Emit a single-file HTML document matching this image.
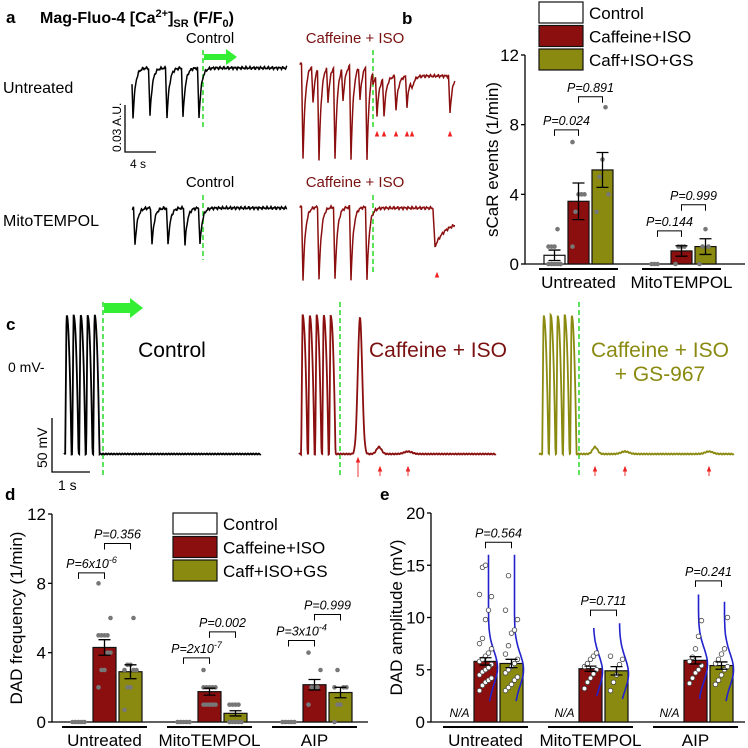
<!DOCTYPE html>
<html><head><meta charset="utf-8"><style>
html,body{margin:0;padding:0;background:#fff}
svg{display:block;font-family:"Liberation Sans",Arial,sans-serif}
</style></head><body>
<svg id="fig" width="748" height="748" viewBox="0 0 748 748" xmlns="http://www.w3.org/2000/svg">
<g id="pa">
<text x="6" y="23" font-size="17" font-weight="bold">a</text>
<text x="40" y="23" font-size="16" font-weight="bold">Mag-Fluo-4 [Ca<tspan font-size="11" dy="-6">2+</tspan><tspan dy="6">]</tspan><tspan font-size="11" dy="4">SR</tspan><tspan dy="-4"> (F/F</tspan><tspan font-size="11" dy="4">0</tspan><tspan dy="-4">)</tspan></text>
<text x="210" y="43" font-size="15" text-anchor="middle">Control</text>
<text x="355" y="43" font-size="15" text-anchor="middle" fill="#7a1010">Caffeine + ISO</text>
<text x="3" y="93" font-size="16">Untreated</text>
<text x="210" y="187" font-size="15" text-anchor="middle">Control</text>
<text x="355" y="187" font-size="15" text-anchor="middle" fill="#7a1010">Caffeine + ISO</text>
<text x="3" y="226" font-size="16">MitoTEMPOL</text>
<path d="M125 105V152H156" fill="none" stroke="#000" stroke-width="1.3"/>
<text transform="translate(121,152) rotate(-90)" font-size="12">0.03 A.U.</text>
<text x="130" y="168" font-size="12">4 s</text>
<line x1="203" y1="50" x2="203" y2="128" stroke="#33dd33" stroke-width="1.6" stroke-dasharray="5,3"/>
<line x1="373" y1="50" x2="373" y2="130" stroke="#33dd33" stroke-width="1.6" stroke-dasharray="5,3"/>
<line x1="203" y1="195" x2="203" y2="260" stroke="#33dd33" stroke-width="1.6" stroke-dasharray="5,3"/>
<line x1="373" y1="195" x2="373" y2="275" stroke="#33dd33" stroke-width="1.6" stroke-dasharray="5,3"/>
<path d="M204 54H226V49L237 57L226 65V60H204Z" fill="#33ee33"/>
</g>
<g id="pb"></g>
<g id="pc">
<text x="6" y="330" font-size="17" font-weight="bold">c</text>
<text x="8" y="372" font-size="14">0 mV-</text>
<path d="M52 418V472H90" fill="none" stroke="#000" stroke-width="1.3"/>
<text transform="translate(47,468) rotate(-90)" font-size="14">50 mV</text>
<text x="58" y="490" font-size="14">1 s</text>
<text x="172" y="357" font-size="21" text-anchor="middle">Control</text>
<text x="438" y="357" font-size="21" text-anchor="middle" fill="#7a1010">Caffeine + ISO</text>
<text x="660" y="357" font-size="21" text-anchor="middle" fill="#8a8a10">Caffeine + ISO</text>
<text x="660" y="381" font-size="21" text-anchor="middle" fill="#8a8a10">+ GS-967</text>
<line x1="103" y1="302" x2="103" y2="476" stroke="#33dd33" stroke-width="1.6" stroke-dasharray="5,3"/>
<line x1="340" y1="302" x2="340" y2="476" stroke="#33dd33" stroke-width="1.6" stroke-dasharray="5,3"/>
<line x1="579" y1="302" x2="579" y2="476" stroke="#33dd33" stroke-width="1.6" stroke-dasharray="5,3"/>
<path d="M104 303H130V298L143 308L130 318V313H104Z" fill="#33ee33"/>
</g>
<g id="pd"></g>
<g id="pe"></g>
</svg>
<script>
const NS="http://www.w3.org/2000/svg";
function mk(parent,tag,attrs,text){const e=document.createElementNS(NS,tag);for(const k in attrs)e.setAttribute(k,attrs[k]);if(text!==undefined)e.textContent=text;parent.appendChild(e);return e;}
const RED="#8b0f0f",OLV="#8a8a10",GRN="#33dd33";

// ---------- Panel a traces (event times in px, depths in px) ----------
const aUntrCtrlEvents=[133,150,167,183,199];
const aUntrCtrlDepth=[50,48,50,50,50];
const aUntrCaffEvents=[303,313,319,328,335,343,351,360,367,377,384,396,407,412,450];
const aUntrCaffDepth=[94,38,94,36,94,34,94,34,94,38,38,34,30,10,37];
const aMitoCtrlEvents=[135,152,168,185,200];
const aMitoCtrlDepth=[37,37,37,37,37];
const aMitoCaffEvents=[303,319,335,351,367];
const aMitoCaffDepth=[73,73,73,73,73];
const aUntrArrows=[377,384,396,407,412,450];
const aMitoArrows=[437];

function jit(x,k){return Math.sin(x*1.7+k)*0.9+Math.sin(x*3.1+k*2)*0.7;}
function caTrace(g,x0,x1,base0,base1,ev,dp,color,name,step){
  let d="";
  for(let x=x0;x<=x1;x+=0.5){
    let b=x<373?base0:base1;
    let y=b+jit(x,ev[0]);
    for(let i=0;i<ev.length;i++){const dx=x-ev[i];
      if(dx>=-1.5&&dx<0)y+=dp[i]*(dx+1.5)/1.5;else if(dx>=0)y+=dp[i]*Math.exp(-dx/2.4);}
    if(step&&x>=step.t){const dx=x-step.t;y+=step.a*Math.min(1,dx/2)*Math.exp(-dx/10)+step.s*Math.min(1,dx/2);}
    d+=(d?"L":"M")+x.toFixed(1)+" "+y.toFixed(1);
  }
  const p=mk(g,"path",{d:d,fill:"none",stroke:color,"stroke-width":1.5});
  
  
}
const pa=document.getElementById("pa");
caTrace(pa,132,287,68,74,aUntrCtrlEvents,aUntrCtrlDepth,"#000","trace-untreated-control");
caTrace(pa,300,455,64,76,aUntrCaffEvents,aUntrCaffDepth,RED,"trace-untreated-caff-iso");
caTrace(pa,132,287,208,210,aMitoCtrlEvents,aMitoCtrlDepth,"#000","trace-mito-control");
caTrace(pa,300,455,207,208,aMitoCaffEvents,aMitoCaffDepth,RED,"trace-mito-caff-iso",{t:433,a:30,s:14});
function upArrow(g,x,y,len,color,hw){
  hw=hw||1.6;
  const a=mk(g,"path",{d:`M${x} ${y}L${x-hw} ${y+4}H${x+hw}Z M${x} ${y+3}V${y+len}`,fill:color,stroke:color,"stroke-width":0.9});
  
  
}
aUntrArrows.forEach(x=>upArrow(pa,x,132,3,"#ee2222"));
aMitoArrows.forEach(x=>upArrow(pa,x,273,3,"#ee2222"));

// ---------- Panel c AP traces ----------
const cCtrlSpikes=[66,73,80,87,94];
const cCaffSpikes=[302,309,316,323,330];
const cCaffDads=[360,379,408];
const cCaffDadAmp=[136,7,2.5];
const cGsSpikes=[543,550,557,564,571];
const cGsDads=[595,625,709];
const cGsDadAmp=[7,2.5,2.5];
function apTrace(g,x0,x1,spikes,dads,amps,color,name){
  const base=454,peak=139;let d="";
  for(let x=x0;x<=x1;x+=0.4){
    let y=base+Math.sin(x*2.3)*0.5;
    spikes.forEach(s=>{const dx=x-s;if(dx>=-0.8&&dx<0.5)y-=peak*(dx+0.8)/1.3;else if(dx>=0.5&&dx<5.5)y-=peak*(1-((dx-0.5)/5)**2.2);});
    dads.forEach((s,i)=>{const dx=x-s;const w=amps[i]>50?2.2:(amps[i]>5?2.5:4);y-=amps[i]*Math.exp(-(dx*dx)/(2*w*w));});
    d+=(d?"L":"M")+x.toFixed(1)+" "+y.toFixed(1);
  }
  const p=mk(g,"path",{d:d,fill:"none",stroke:color,"stroke-width":1.8});
  
  
}
const pc=document.getElementById("pc");
apTrace(pc,64,261,cCtrlSpikes,[],[],"#000","ap-trace-control");
apTrace(pc,299,496,cCaffSpikes,cCaffDads,cCaffDadAmp,RED,"ap-trace-caff-iso");
apTrace(pc,539,734,cGsSpikes,cGsDads,cGsDadAmp,OLV,"ap-trace-caff-iso-gs");
upArrow(pc,358,458,19,"#ee2222");
[380,408,595,625,709].forEach(x=>upArrow(pc,x,467,9,"#ee2222"));

// ---------- Bar chart helper ----------
function barChart(o){
  const g=document.getElementById(o.id);
  const ys=v=>o.y0-(v-o.ymin)/(o.ymax-o.ymin)*(o.y0-o.ytop);
  const ax=mk(g,"path",{d:`M${o.ax} ${o.ytop}V${o.y0}H${o.axEnd}`,fill:"none",stroke:"#000","stroke-width":1.3});
  
  
  o.ticks.forEach(t=>{
    mk(g,"line",{x1:o.ax-4,x2:o.ax,y1:ys(t),y2:ys(t),stroke:"#000","stroke-width":1.3});
    const tl=mk(g,"text",{x:o.ax-6,y:ys(t)+6,"font-size":17,"text-anchor":"end"},String(t));
    
    
  });
  const yt=mk(g,"text",{transform:`translate(${o.titleX},${(o.y0+o.ytop)/2}) rotate(-90)`,"font-size":17,"text-anchor":"middle"},o.title);
  
  
  const fills=["#fff",RED,OLV];
  o.groups.forEach((gr,gi)=>{
    const x0=o.gx[gi];
    const ul=mk(g,"line",{x1:x0-5,x2:x0+3*o.bw+2*o.gap+5,y1:o.y0+5,y2:o.y0+5,stroke:"#000","stroke-width":2});
    
    
    const gl=mk(g,"text",{x:x0+(3*o.bw+2*o.gap)/2,y:o.y0+24,"font-size":17,"text-anchor":"middle"},gr);
    
    
    for(let s=0;s<3;s++){
      const v=o.means[s][gi];const bx=x0+s*(o.bw+o.gap);
      if(v===null){const na=mk(g,"text",{x:bx+o.bw/2,y:o.y0-5,"font-size":12,"font-style":"italic","text-anchor":"middle"},"N/A");
        
        continue;}
      const r=mk(g,"rect",{x:bx,y:ys(v),width:o.bw,height:o.y0-ys(v),fill:fills[s],stroke:"#111","stroke-width":1.2});
      
      
      const cx=bx+o.bw/2;
      if(o.violin&&o.violin[s]&&o.violin[s][gi]){
        const [lo,hi,mu]=o.violin[s][gi];let d="";
        for(let v2=lo;v2<=hi+0.01;v2+=0.25){const w=9*Math.exp(-((v2-mu)**2)/(2*1.6*1.6));const xx=cx+3+w;d+=(d?"L":"M")+xx.toFixed(1)+" "+ys(v2).toFixed(1);}
        const vp=mk(g,"path",{d:d,fill:"none",stroke:"#2222cc","stroke-width":1.6});
        
        
      }
      (o.points[s][gi]||[]).forEach((pv,pi)=>{
        const off=((pi%5)-2)*3;
        const c=mk(g,"circle",{cx:cx+off,cy:ys(pv),r:2.3,fill:o.open?"#fff":"#777",stroke:o.open?"#444":"none","stroke-width":0.8});
        
        
      });
      if(o.sem[s][gi]>0){const e=o.sem[s][gi];
        const eb=mk(g,"path",{d:`M${cx} ${ys(v+e)}V${ys(v-e)}M${cx-6} ${ys(v+e)}H${cx+6}M${cx-6} ${ys(v-e)}H${cx+6}`,stroke:"#000","stroke-width":1.3,fill:"none"});
        
        }
    }
  });
  o.pvals.forEach(p=>{
    const [gi,s1,s2,yb,label,sup]=p;const x0=o.gx[gi];
    const xa=x0+s1*(o.bw+o.gap)+o.bw/2,xb=x0+s2*(o.bw+o.gap)+o.bw/2,y=ys(yb);
    const br=mk(g,"path",{d:`M${xa} ${y+6}V${y}H${xb}V${y+6}`,fill:"none",stroke:"#000","stroke-width":1});
    
    
    const t=mk(g,"text",{x:(xa+xb)/2,y:y-5,"font-size":12.5,"font-style":"italic","text-anchor":"middle"},label);
    if(sup){const ts=mk(t,"tspan",{"font-size":9,dy:-5},sup);}
    
    
  });
  if(o.legend){const [lx,ly]=o.legend;const names=["Control","Caffeine+ISO","Caff+ISO+GS"];
    names.forEach((n,i)=>{const r=mk(g,"rect",{x:lx,y:ly+i*23.5,width:44,height:21,fill:fills[i],stroke:"#111","stroke-width":1.2});
      
      
      const t=mk(g,"text",{x:lx+50,y:ly+i*23.5+17,"font-size":17},n);
      
      });}
  const pl=mk(g,"text",{x:o.label[0],y:o.label[1],"font-size":17,"font-weight":"bold"},o.letter);
  
  
}

// ---------- Panel b data ----------
const bGroups=["Untreated","MitoTEMPOL"];
const bTicks=[0,4,8,12];
const bCtrl=[0.5,0];
const bCaff=[3.6,0.75];
const bGs=[5.4,1.0];
const bCtrlSem=[0.3,0];
const bCaffSem=[1.05,0.3];
const bGsSem=[1.0,0.45];
const bCtrlPts=[[0,0,0,0,0,1,1,1,2,0],[0,0,0]];
const bCaffPts=[[1,3,4,4,4,7],[0,1,1,1]];
const bGsPts=[[3,5,6,9,4],[0,1,2,1]];
barChart({id:"pb",letter:"b",label:[402,24],ax:525,axEnd:745,y0:264,ytop:55,ymin:0,ymax:12,ticks:bTicks,
  title:"sCaR events (1/min)",titleX:498,groups:bGroups,gx:[544,647],bw:21,gap:3,series:["control","caff-iso","caff-iso-gs"],
  means:[bCtrl,bCaff,bGs],sem:[bCtrlSem,bCaffSem,bGsSem],points:[bCtrlPts,bCaffPts,bGsPts],
  pvals:[[0,0,1,7.7,"P=0.024"],[0,1,2,9.6,"P=0.891"],[1,0,1,1.9,"P=0.144"],[1,1,2,3.4,"P=0.999"]],legend:[539,2]});

// ---------- Panel d data ----------
const dGroups=["Untreated","MitoTEMPOL","AIP"];
const dTicks=[0,4,8,12];
const dCtrl=[0,0,0];
const dCaff=[4.3,1.75,2.15];
const dGs=[2.9,0.5,1.7];
const dCtrlSem=[0,0,0];
const dCaffSem=[0.45,0.2,0.3];
const dGsSem=[0.4,0.15,0.3];
const dCtrlPts=[[0,0,0,0,0],[0,0,0,0,0],[0,0,0,0,0]];
const dCaffPts=[[2,3,3,4,4,5,5,5,5,6,8],[1,1,1,1,1,2,2,2,2,2,3],[1,2,2,2,3,4]];
const dGsPts=[[0.7,2,2,3,3,3,3.3,3.3,6],[0,0,0,0,0,1,1,1,1],[0,1,1,2,2,2,3]];
barChart({id:"pd",letter:"d",label:[5,500],ax:52,axEnd:368,y0:722,ytop:514,ymin:0,ymax:12,ticks:dTicks,
  title:"DAD frequency (1/min)",titleX:22,groups:dGroups,gx:[67,172,277],bw:23,gap:3,series:["control","caff-iso","caff-iso-gs"],
  means:[dCtrl,dCaff,dGs],sem:[dCtrlSem,dCaffSem,dGsSem],points:[dCtrlPts,dCaffPts,dGsPts],
  pvals:[[0,0,1,8.6,"P=6x10","-6"],[0,1,2,10.3,"P=0.356"],[1,0,1,3.7,"P=2x10","-7"],[1,1,2,5.2,"P=0.002"],[2,0,1,4.7,"P=3x10","-4"],[2,1,2,6.2,"P=0.999"]],
  legend:[173,513]});

// ---------- Panel e data ----------
const eGroups=["Untreated","MitoTEMPOL","AIP"];
const eTicks=[0,5,10,15,20];
const eCtrl=[null,null,null];
const eCaff=[5.8,5.1,5.9];
const eGs=[5.6,4.9,5.4];
const eCtrlSem=[0,0,0];
const eCaffSem=[0.35,0.25,0.35];
const eGsSem=[0.4,0.4,0.35];
const eCaffPts=[[3,3.5,3.8,4,4.2,4.5,4.8,5,5.2,5.5,5.8,6,6.3,6.6,7,7.5,8,9.8,10.7,12,12.2,14.8,15],[3.2,3.8,4.2,4.6,5,5.3,5.6,6,6.3,6.6],[3.7,4.2,4.7,5,5.4,5.8,6.2,7,8.2,9.7]];
const eGsPts=[[3,3.3,3.6,4,4.3,4.7,5,5.3,5.6,6,6.5,7.3,8.5,8.8,9.8,10.7,14],[3,3.8,4.5,5.5,6,6.3],[3.6,4,4.5,5,5.3,5.6,6,6.5,7,10]];
const eCaffViolin=[[2,16,5.2],[2.5,9,4.8],[2.2,12.3,5.5]];
const eGsViolin=[[2,16,5],[2.2,9.5,4.6],[2,11.5,5]];
barChart({id:"pe",letter:"e",label:[380,500],ax:431,axEnd:745,y0:722,ytop:513,ymin:0,ymax:20,ticks:eTicks,
  title:"DAD amplitude (mV)",titleX:402,groups:eGroups,gx:[448,553,658],bw:23,gap:3,series:["control","caff-iso","caff-iso-gs"],
  means:[eCtrl,eCaff,eGs],sem:[eCtrlSem,eCaffSem,eGsSem],points:[[[],[],[]],eCaffPts,eGsPts],open:true,
  violin:[null,eCaffViolin,eGsViolin],
  pvals:[[0,1,2,17.2,"P=0.564"],[1,1,2,10.7,"P=0.711"],[2,1,2,13.5,"P=0.241"]]});
</script>
</body></html>
